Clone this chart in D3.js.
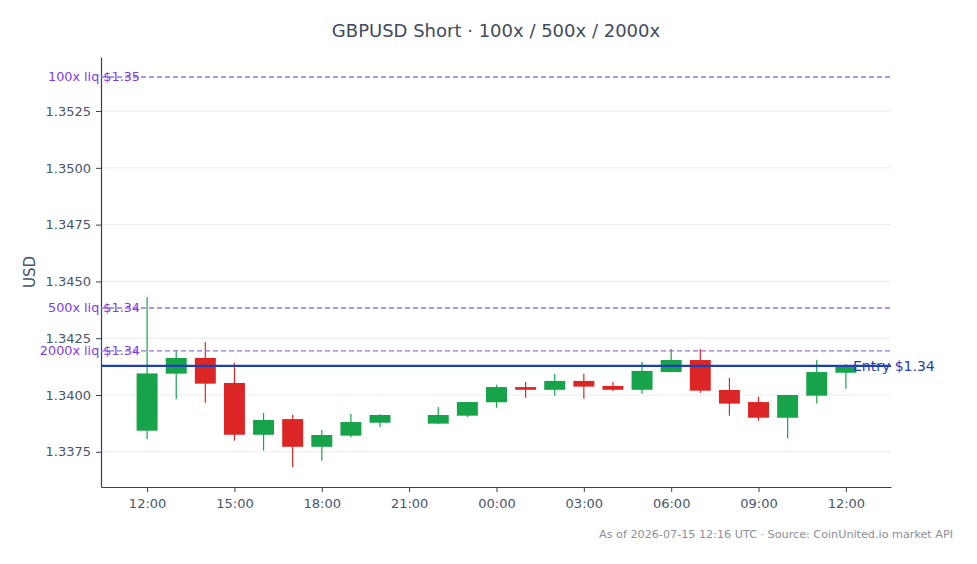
<!DOCTYPE html>
<html><head><meta charset="utf-8">
<script src="https://cdn.jsdelivr.net/npm/d3@7"></script>
<style>body{margin:0;background:#fff;}svg{display:block;font-family:"DejaVu Sans",sans-serif;}</style>
</head><body><svg id="c" width="977" height="564"></svg>
<script>
const times = ["2026-07-14T12:00Z","2026-07-14T13:00Z","2026-07-14T14:00Z","2026-07-14T15:00Z","2026-07-14T16:00Z","2026-07-14T17:00Z","2026-07-14T18:00Z","2026-07-14T19:00Z","2026-07-14T20:00Z","2026-07-14T22:00Z","2026-07-14T23:00Z","2026-07-15T00:00Z","2026-07-15T01:00Z","2026-07-15T02:00Z","2026-07-15T03:00Z","2026-07-15T04:00Z","2026-07-15T05:00Z","2026-07-15T06:00Z","2026-07-15T07:00Z","2026-07-15T08:00Z","2026-07-15T09:00Z","2026-07-15T10:00Z","2026-07-15T11:00Z","2026-07-15T12:00Z"];
const opens  = [1.33843,1.34094,1.34163,1.34053,1.33825,1.33894,1.33772,1.33821,1.33878,1.33874,1.33909,1.33968,1.34035,1.34023,1.34062,1.34040,1.34023,1.34101,1.34154,1.34022,1.33969,1.33900,1.33997,1.34098];
const highs  = [1.34430,1.34194,1.34233,1.34142,1.33921,1.33913,1.33846,1.33916,1.33915,1.33947,1.33970,1.34045,1.34057,1.34094,1.34094,1.34057,1.34145,1.34202,1.34202,1.34075,1.33993,1.34000,1.34154,1.34136];
const lows   = [1.33805,1.33981,1.33966,1.33799,1.33755,1.33682,1.33711,1.33814,1.33859,1.33872,1.33903,1.33944,1.33988,1.33997,1.33984,1.34018,1.34006,1.34100,1.34010,1.33909,1.33887,1.33808,1.33963,1.34028];
const closes = [1.34095,1.34163,1.34050,1.33825,1.33890,1.33772,1.33824,1.33881,1.33912,1.33912,1.33969,1.34035,1.34023,1.34062,1.34037,1.34023,1.34106,1.34154,1.34019,1.33962,1.33900,1.34000,1.34101,1.34126];
const liqLabels = ["100x liq $1.35","500x liq $1.34","2000x liq $1.34"];
const liqValues = [1.35400,1.34383,1.34194];
const entryLabel = "Entry $1.34";
const entryValue = 1.34128;
const yTicks = [1.3375,1.3400,1.3425,1.3450,1.3475,1.3500,1.3525];
const xDomain = ["2026-07-14T10:25Z","2026-07-15T13:33Z"];
const yDomain = [1.33595,1.35488];

const W=977,H=564, m={l:101,r:86,t:57,b:77};
const svg=d3.select("#c");
const x=d3.scaleUtc().domain(xDomain.map(d=>new Date(d))).range([m.l,W-m.r]);
const y=d3.scaleLinear().domain(yDomain).range([H-m.b,m.t]);
const axisCol="#334155", txtCol="#475569";

// grid
svg.append("g").selectAll("line").data(yTicks).join("line")
  .attr("x1",m.l).attr("x2",W-m.r).attr("y1",d=>y(d)).attr("y2",d=>y(d))
  .attr("stroke","#e8ebf0").attr("stroke-width",1);

// axes
const ya=svg.append("g").attr("transform",`translate(${m.l},0)`)
  .call(d3.axisLeft(y).tickValues(yTicks).tickFormat(d3.format(".4f")).tickSize(5).tickSizeOuter(0).tickPadding(5));
const xa=svg.append("g").attr("transform",`translate(0,${H-m.b})`)
  .call(d3.axisBottom(x).ticks(d3.utcHour.every(3)).tickFormat(d3.utcFormat("%H:%M")).tickSize(5).tickSizeOuter(0).tickPadding(7));
[ya,xa].forEach(a=>{
  a.select(".domain").attr("stroke",axisCol).attr("stroke-width",1.2);
  a.selectAll(".tick line").attr("stroke",axisCol);
  a.selectAll(".tick text").attr("fill",txtCol).attr("font-size",13).attr("font-family","DejaVu Sans");
});

// candles
const data=times.map((t,i)=>({t:new Date(t),o:opens[i],h:highs[i],l:lows[i],c:closes[i]}));
const bw=(x(new Date(times[1]))-x(new Date(times[0])))*0.72;
const col=d=>d.c>=d.o?"#16a34a":"#dc2626";
const cg=svg.append("g");
cg.selectAll("line").data(data).join("line")
  .attr("x1",d=>x(d.t)).attr("x2",d=>x(d.t)).attr("y1",d=>y(d.h)).attr("y2",d=>y(d.l))
  .attr("stroke",col).attr("stroke-width",1.2);
cg.selectAll("rect").data(data).join("rect")
  .attr("x",d=>x(d.t)-bw/2).attr("width",bw)
  .attr("y",d=>y(Math.max(d.o,d.c))).attr("height",d=>Math.max(1.5,Math.abs(y(d.o)-y(d.c))))
  .attr("fill",col);

// liq lines
const lg=svg.append("g");
lg.selectAll("line").data(liqValues).join("line")
  .attr("x1",m.l).attr("x2",W-m.r).attr("y1",d=>y(d)).attr("y2",d=>y(d))
  .attr("stroke","#9b6fe0").attr("stroke-width",1.3).attr("stroke-dasharray","5,3");
lg.selectAll("text").data(liqValues).join("text")
  .attr("x",140).attr("y",d=>y(d)).attr("dy","0.35em").attr("text-anchor","end")
  .attr("fill","#7c3aed").attr("font-size",12.8).text((d,i)=>liqLabels[i]);

// entry
svg.append("line").attr("x1",m.l).attr("x2",W-m.r).attr("y1",y(entryValue)).attr("y2",y(entryValue))
  .attr("stroke","#1e40af").attr("stroke-width",2.2);
svg.append("text").attr("x",853).attr("y",y(entryValue)).attr("dy","0.35em")
  .attr("fill","#1e40af").attr("font-size",14).text(entryLabel);

// title
svg.append("text").attr("x",(m.l+W-m.r)/2).attr("y",37).attr("text-anchor","middle")
  .attr("fill","#3f4a5a").attr("font-size",18).text("GBPUSD Short · 100x / 500x / 2000x");
// y label
svg.append("text").attr("transform",`translate(35,${(m.t+H-m.b)/2}) rotate(-90)`).attr("text-anchor","middle")
  .attr("fill",txtCol).attr("font-size",15).text("USD");
// footer
svg.append("text").attr("x",953).attr("y",538).attr("text-anchor","end")
  .attr("fill","#8a8f98").attr("font-size",11.2).text("As of 2026-07-15 12:16 UTC · Source: CoinUnited.io market API");
</script></body></html>
